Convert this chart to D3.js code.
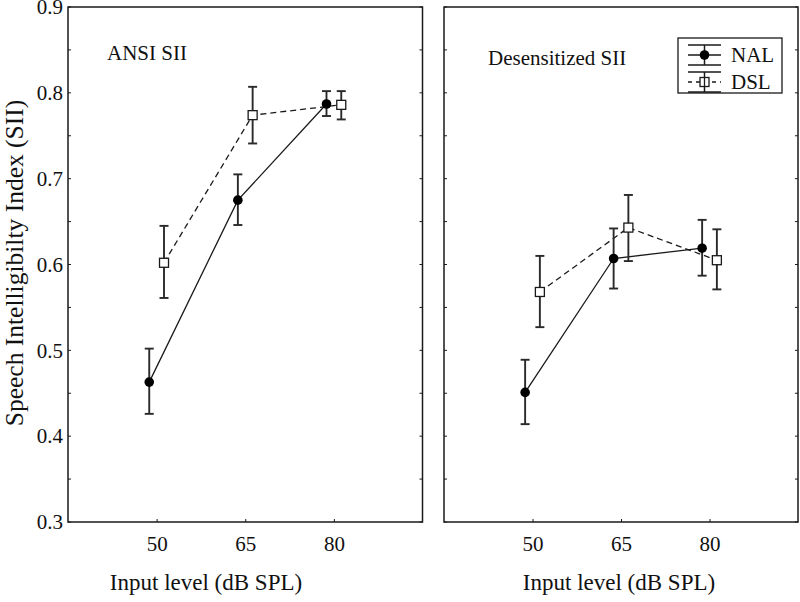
<!DOCTYPE html>
<html><head><meta charset="utf-8">
<script src="https://cdn.jsdelivr.net/npm/d3@7"></script>
<style>
html,body{margin:0;padding:0;background:#fff;}
svg text{font-family:"Liberation Serif","Times New Roman",serif;fill:#111;}
</style></head>
<body><svg id="c" width="800" height="602"></svg>
<script>
// ---- data ----
const levels = [50, 65, 80];
const xTickLabels = ["50", "65", "80"];
const yTicks = [0.3, 0.4, 0.5, 0.6, 0.7, 0.8, 0.9];
const yTickLabels = ["0.3", "0.4", "0.5", "0.6", "0.7", "0.8", "0.9"];
const panelTitles = ["ANSI SII", "Desensitized SII"];
const seriesNames = ["NAL", "DSL"];
const nalX = [48.75, 63.75, 78.75];
const dslX = [51.25, 66.25, 81.25];
// ANSI SII
const ansiNal = [0.463, 0.675, 0.787];
const ansiNalLo = [0.426, 0.646, 0.773];
const ansiNalHi = [0.502, 0.705, 0.802];
const ansiDsl = [0.602, 0.774, 0.786];
const ansiDslLo = [0.561, 0.741, 0.769];
const ansiDslHi = [0.645, 0.807, 0.802];
// Desensitized SII
const desNal = [0.451, 0.607, 0.619];
const desNalLo = [0.414, 0.572, 0.587];
const desNalHi = [0.489, 0.642, 0.652];
const desDsl = [0.568, 0.643, 0.605];
const desDslLo = [0.527, 0.604, 0.571];
const desDslHi = [0.610, 0.681, 0.641];

const svg = d3.select("#c");
const yTop = 7, yBot = 522;
const panels = [
  {x0: 68, x1: 422.5, title: panelTitles[0], titleX: 107, titleY: 60,
   nal: ansiNal, nalLo: ansiNalLo, nalHi: ansiNalHi, dsl: ansiDsl, dslLo: ansiDslLo, dslHi: ansiDslHi, xTitle: 206},
  {x0: 444, x1: 798, title: panelTitles[1], titleX: 488, titleY: 65,
   nal: desNal, nalLo: desNalLo, nalHi: desNalHi, dsl: desDsl, dslLo: desDslLo, dslHi: desDslHi, xTitle: 619}
];
const y = d3.scaleLinear().domain([0.3, 0.9]).range([yBot, yTop]);
const ink = "#1a1a1a";

panels.forEach((p, pi) => {
  const x = d3.scaleLinear().domain([35, 95]).range([p.x0, p.x1]);
  const g = svg.append("g");
  g.append("rect").attr("x", p.x0).attr("y", yTop).attr("width", p.x1 - p.x0).attr("height", yBot - yTop)
    .attr("fill", "none").attr("stroke", ink).attr("stroke-width", 1.5);
  const minor = d3.range(0.3, 0.9001, 0.05);
  minor.forEach(v => {
    g.append("line").attr("x1", p.x0).attr("x2", p.x0 + 3).attr("y1", y(v)).attr("y2", y(v)).attr("stroke", ink);
    g.append("line").attr("x1", p.x1).attr("x2", p.x1 - 3).attr("y1", y(v)).attr("y2", y(v)).attr("stroke", ink);
  });
  const xa = d3.axisBottom(x).tickValues(levels).tickSize(-3).tickPadding(14)
    .tickFormat((d, i) => xTickLabels[i]);
  const ax = g.append("g").attr("transform", `translate(0,${yBot})`).call(xa);
  ax.select(".domain").remove();
  ax.selectAll("line").attr("stroke", ink);
  ax.selectAll("text").attr("font-size", 21).attr("dy", "0.71em").style("font-family", '"Liberation Serif",serif').attr("fill", "#111");
  if (pi === 0) {
    const ya = d3.axisLeft(y).tickValues(yTicks).tickSize(0).tickPadding(5)
      .tickFormat((d, i) => yTickLabels[i]);
    const ay = g.append("g").attr("transform", `translate(${p.x0},0)`).call(ya);
    ay.select(".domain").remove();
    ay.selectAll("text").attr("font-size", 21).style("font-family", '"Liberation Serif",serif').attr("fill", "#111");
  }
  g.append("text").attr("x", p.titleX).attr("y", p.titleY).attr("font-size", 21).text(p.title);
  g.append("text").attr("x", p.xTitle).attr("y", 590).attr("text-anchor", "middle").attr("font-size", 23).text("Input level (dB SPL)");

  const line = d3.line().x(d => x(d[0])).y(d => y(d[1]));
  g.append("path").datum(nalX.map((v, i) => [v, p.nal[i]])).attr("d", line)
    .attr("fill", "none").attr("stroke", ink).attr("stroke-width", 1.3);
  g.append("path").datum(dslX.map((v, i) => [v, p.dsl[i]])).attr("d", line)
    .attr("fill", "none").attr("stroke", ink).attr("stroke-width", 1.3).attr("stroke-dasharray", "6,4");
  function ebars(xs, lo, hi) {
    xs.forEach((xv, i) => {
      const cx = x(xv);
      g.append("line").attr("x1", cx).attr("x2", cx).attr("y1", y(lo[i])).attr("y2", y(hi[i])).attr("stroke", "#2a2a2a").attr("stroke-width", 1.9);
      [lo[i], hi[i]].forEach(v => g.append("line").attr("x1", cx - 4.5).attr("x2", cx + 4.5).attr("y1", y(v)).attr("y2", y(v)).attr("stroke", "#2a2a2a").attr("stroke-width", 1.9));
    });
  }
  ebars(nalX, p.nalLo, p.nalHi);
  ebars(dslX, p.dslLo, p.dslHi);
  nalX.forEach((xv, i) => g.append("circle").attr("cx", x(xv)).attr("cy", y(p.nal[i])).attr("r", 4.8).attr("fill", "#000"));
  dslX.forEach((xv, i) => g.append("rect").attr("x", x(xv) - 4.5).attr("y", y(p.dsl[i]) - 4.5).attr("width", 9).attr("height", 9)
    .attr("fill", "#fff").attr("stroke", ink).attr("stroke-width", 1.3));
});

svg.append("text").attr("transform", `translate(23,263) rotate(-90)`).attr("text-anchor", "middle")
  .attr("font-size", 25.5).text("Speech Intelligibilty Index (SII)");

const lg = svg.append("g");
lg.append("rect").attr("x", 678).attr("y", 38).attr("width", 104).attr("height", 55).attr("fill", "#fff").attr("stroke", ink).attr("stroke-width", 1.3);
const lx0 = 688, lx1 = 721, lcx = (lx0 + lx1) / 2;
[[55, false], [82, true]].forEach(([ly, dashed], i) => {
  [ly - 10, ly + 10].forEach(cy => lg.append("line").attr("x1", lx0).attr("x2", lx1).attr("y1", cy).attr("y2", cy).attr("stroke", ink).attr("stroke-width", 1.5));
  lg.append("line").attr("x1", lx0).attr("x2", lx1).attr("y1", ly).attr("y2", ly).attr("stroke", ink).attr("stroke-width", 1.3)
    .attr("stroke-dasharray", dashed ? "4,4" : null);
  lg.append("line").attr("x1", lcx).attr("x2", lcx).attr("y1", ly - 10).attr("y2", ly + 10).attr("stroke", ink).attr("stroke-width", 1.5);
  if (dashed) lg.append("rect").attr("x", lcx - 4.5).attr("y", ly - 4.5).attr("width", 9).attr("height", 9).attr("fill", "#fff").attr("stroke", ink).attr("stroke-width", 1.3);
  else lg.append("circle").attr("cx", lcx).attr("cy", ly).attr("r", 4.8).attr("fill", "#000");
  if (dashed) lg.append("line").attr("x1", lcx).attr("x2", lcx).attr("y1", ly - 4.5).attr("y2", ly + 4.5).attr("stroke", ink).attr("stroke-width", 1.3);
  lg.append("text").attr("x", 731).attr("y", ly + 7).attr("font-size", 21).text(seriesNames[i]);
});
</script></body></html>
